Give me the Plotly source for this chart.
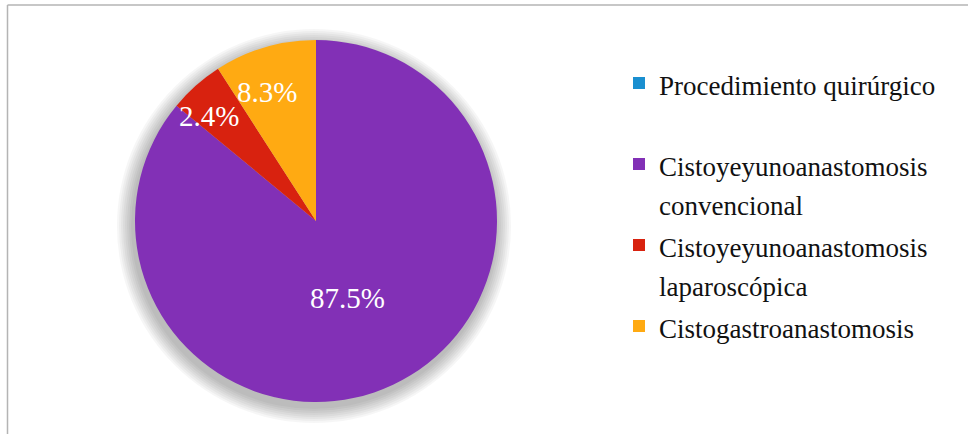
import math
import plotly.graph_objects as go

# ---- data ----
categories = [
    "Procedimiento quirúrgico",
    "Cistoyeyunoanastomosis<br>convencional",
    "Cistoyeyunoanastomosis<br>laparoscópica",
    "Cistogastroanastomosis",
]
slice_values = [0, 86.0, 4.9, 9.1]          # shares as drawn in the picture
label_texts = ["", "87.5%", "2.4%", "8.3%"]  # printed data labels

# ---- style ----
colors = ["#1A8FD0", "#8230B6", "#D8220F", "#FFAA12"]
label_radius = [0, 0.46, 0.83, 0.76]
label_angle_shift = [0, 3, -4, -4.5]   # degrees, clockwise
W, H = 968, 434
FONT = "Liberation Serif"
LEG_FONT_PX = 27
LEG_LINE_FONT = 30  # controls legend line pitch (1.3 * size)

cx_px, cy_px, r_px = 316, 221, 181
dom_x = [(cx_px - r_px) / W, (cx_px + r_px) / W]
dom_y = [(H - cy_px - r_px) / H, (H - cy_px + r_px) / H]


def leg_label(text, n_lines=2):
    lines = text.split("<br>")
    lines += [" "] * (n_lines - len(lines))
    return "<br>".join(f"<span style='font-size:{LEG_FONT_PX}px'>{ln}</span>" for ln in lines)


fig = go.Figure()

# soft shadow behind the pie
for k in range(2, 18, 2):
    sx = [(cx_px - 2 - r_px - k) / W, (cx_px - 2 + r_px + k) / W]
    sy = [(H - cy_px - 5 - r_px - k) / H, (H - cy_px - 5 + r_px + k) / H]
    fig.add_trace(go.Pie(values=[1], labels=["s"], domain=dict(x=sx, y=sy),
                         marker=dict(colors=["#000000"], line=dict(width=0)), opacity=0.035,
                         textinfo="none", hoverinfo="skip", showlegend=False, sort=False))

fig.add_trace(go.Pie(
    labels=[leg_label(c) for c in categories],
    values=slice_values,
    sort=False,
    direction="clockwise",
    rotation=0,
    domain=dict(x=dom_x, y=dom_y),
    marker=dict(colors=colors, line=dict(width=0)),
    textinfo="none",
    hovertext=[c.replace("<br>", " ") for c in categories],
    hoverinfo="text+percent",
    showlegend=True,
))

# data labels placed along each slice's middle angle
total = sum(slice_values)
cum = 0.0
for v, txt, f, sh in zip(slice_values, label_texts, label_radius, label_angle_shift):
    mid = ((cum + v / 2) / total * 360 + sh) * math.pi / 180
    cum += v
    if not txt:
        continue
    x = (cx_px + f * r_px * math.sin(mid)) / W
    y = (H - cy_px + f * r_px * math.cos(mid)) / H
    fig.add_annotation(x=x, y=y, xref="paper", yref="paper", text=txt, showarrow=False,
                       xanchor="center", yanchor="middle",
                       font=dict(family=FONT, size=29, color="white"))

# frame lines (top and left)
fig.add_shape(type="line", xref="paper", yref="paper", x0=7.5 / W, x1=1, y0=1 - 5 / H, y1=1 - 5 / H,
              line=dict(color="#B4B4B4", width=1.5))
fig.add_shape(type="line", xref="paper", yref="paper", x0=7.5 / W, x1=7.5 / W, y0=0, y1=1 - 5 / H,
              line=dict(color="#B4B4B4", width=1.5))

fig.update_layout(
    width=W, height=H,
    margin=dict(l=0, r=0, t=0, b=0),
    paper_bgcolor="white",
    plot_bgcolor="white",
    font=dict(family=FONT, size=LEG_FONT_PX, color="#111111"),
    legend=dict(x=619 / W, y=1 - 57 / H, xanchor="left", yanchor="top",
                valign="top", font=dict(family=FONT, size=LEG_LINE_FONT, color="#111111"),
                traceorder="normal", bgcolor="rgba(0,0,0,0)"),
)

fig.write_html("out.html")
